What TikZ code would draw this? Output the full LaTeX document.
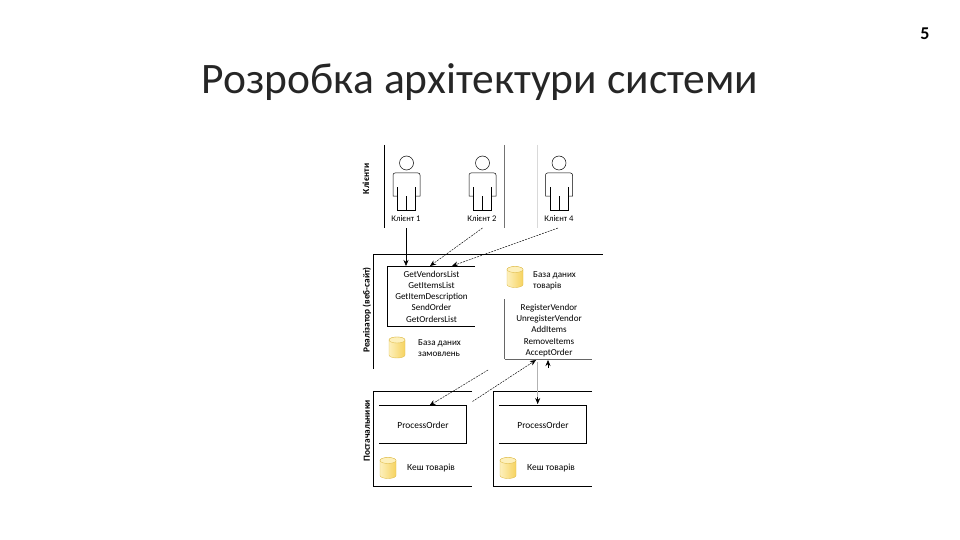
\documentclass[tikz,border=0pt]{standalone}
\usepackage{fontspec}
\setmainfont{Carlito}
\usetikzlibrary{arrows.meta}
\definecolor{dbfill}{HTML}{F6D25E}
\definecolor{dbpale}{HTML}{FDF0BC}
\definecolor{dbedge}{HTML}{E0BE50}
\tikzset{
  lbl/.style={font=\fontsize{8.6}{10}\selectfont,inner sep=0pt},
  wordlbl/.style={font=\fontsize{9.4}{11}\selectfont,inner sep=0pt},
  dblbl/.style={font=\fontsize{9.1}{10.7}\selectfont,inner sep=0pt,align=left,anchor=west},
  sidelbl/.style={font=\fontsize{9.3}{10}\selectfont\bfseries,rotate=90,inner sep=0pt},
  methods/.style={font=\fontsize{9.1}{11.2}\selectfont,align=center,inner sep=0pt,anchor=center},
  link/.style={-{Stealth[length=6pt,width=5pt]},black,line width=.5pt},
  dotlink/.style={link,dash pattern=on 2pt off 1pt,line width=.45pt},
  frame/.style={line width=.7pt},
  dbicon/.pic={
    \draw[dbedge,line width=.4pt,left color=dbpale,right color=dbfill]
      (-8,-7.5) -- (-8,7.5) arc[start angle=180,end angle=0,x radius=8,y radius=3] -- (8,-7.5)
      arc[start angle=0,end angle=-180,x radius=8,y radius=3];
    \draw[dbedge,line width=.4pt,fill=dbpale] (0,-7.5) ellipse[x radius=8,y radius=3];
  },
  person/.pic={
    \draw[line width=.5pt] (0,-9) circle[radius=7];
    \draw[line width=.5pt] (-9,24) -- (-13.5,24) -- (-13.5,3) arc[start angle=180,end angle=270,radius=2] -- (11.5,1)
      arc[start angle=270,end angle=360,radius=2] -- (13.5,24) -- (9,24);
    \draw[line width=.5pt] (-9,15) -- (-9,38) -- (9,38) -- (9,15);
    \draw[line width=.5pt] (0,24) -- (0,38);
  }
}
\begin{document}
\begin{tikzpicture}[x=1pt,y=-1pt]
  \useasboundingbox (0,0) rectangle (960,540);
  \node[font=\fontsize{18}{20}\selectfont\bfseries] (page) at (925,34){5};
  \node[font=\fontsize{43.5}{48}\selectfont,text=black!85] (title) at (480,82.5){Розробка архітектури системи};
  % clients
  \node[sidelbl] (clientside) at (366,179){Клієнти};
  \draw[frame] (384,145) -- (384,228);
  \draw[frame,black!55] (504,145) -- (504,228);
  \draw[frame,black!15] (537,145) -- (537,228);
  \pic at (406.5,172) {person};
  \pic at (482.5,172) {person};
  \pic at (559,172) {person};
  \node[lbl] (client1) at (406,219){Клієнт 1};
  \node[lbl] (client2) at (482,219){Клієнт 2};
  \node[lbl] (client4) at (559,219){Клієнт 4};
  % site
  \node[sidelbl] (siteside) at (367,310){Реалізатор (веб-сайт)};
  \draw[frame] (373.5,369) -- (373.5,254) -- (603,254);
  \node[methods] (buyer) at (431.5,296.5){GetVendorsList\\GetItemsList\\GetItemDescription\\SendOrder\\GetOrdersList};
  \draw[line width=.5pt] (475,266) -- (387,266) -- (387,326) -- (475,326);
  \pic at (515,277) {dbicon};
  \node[dblbl] (goodsdb) at (533,281){База даних\\товарів};
  \node[methods] (seller) at (549,330.5){RegisterVendor\\UnregisterVendor\\AddItems\\RemoveItems\\AcceptOrder};
  \draw[line width=.5pt,black!60] (504.5,299) -- (504.5,359);
  \draw[line width=.5pt,black!60] (504.5,359) -- (592,359);
  \pic at (397,347.5) {dbicon};
  \node[dblbl] (ordersdb) at (418,348){База даних\\замовлень};
  % vendors
  \node[sidelbl] (vendorside) at (367,431){Постачальники};
  \draw[frame] (472,391.5) -- (373.5,391.5) -- (373.5,486) -- (472,486);
  \draw[frame] (592,391.5) -- (493.5,391.5) -- (493.5,486) -- (592,486);
  \node[wordlbl] (process1) at (423,425){ProcessOrder};
  \node[wordlbl] (process2) at (543,425){ProcessOrder};
  \draw[frame] (379,405.5) -- (466.5,405.5) -- (466.5,443.5) -- (379,443.5);
  \draw[frame] (499,405.5) -- (586.5,405.5) -- (586.5,443.5) -- (499,443.5);
  \pic at (388,468) {dbicon};
  \pic at (508,468) {dbicon};
  \node[wordlbl,anchor=west] (cache1) at (407,468){Кеш товарів};
  \node[wordlbl,anchor=west] (cache2) at (527,468){Кеш товарів};
  % links
  \coordinate (from1) at (406,228);
  \coordinate (to1) at (406,266);
  \coordinate (from2) at (482.5,228);
  \coordinate (to2) at (430,266);
  \coordinate (from4) at (558,228);
  \coordinate (to4) at (452,266);
  \coordinate (from5) at (488,370);
  \coordinate (to5) at (429.5,405.5);
  \coordinate (from6) at (472.5,401.5);
  \coordinate (to6) at (536,360);
  \coordinate (from7) at (537.7,362);
  \coordinate (to7) at (537.7,404);
  \coordinate (from8) at (548,367.5);
  \coordinate (to8) at (548,360);
  \coordinate (from9) at (537.7,397);
  \draw[link] (from1) -- (to1);
  \draw[dotlink] (from2) -- (to2);
  \draw[dotlink] (from4) -- (to4);
  \draw[dotlink] (from5) -- (to5);
  \draw[dotlink] (from6) -- (to6);
  \draw[black!30,line width=.5pt] (from7) -- (to7);
  \draw[link] (from9) -- (to7);
  \draw[link] (from8) -- (to8);
\end{tikzpicture}
\end{document}
